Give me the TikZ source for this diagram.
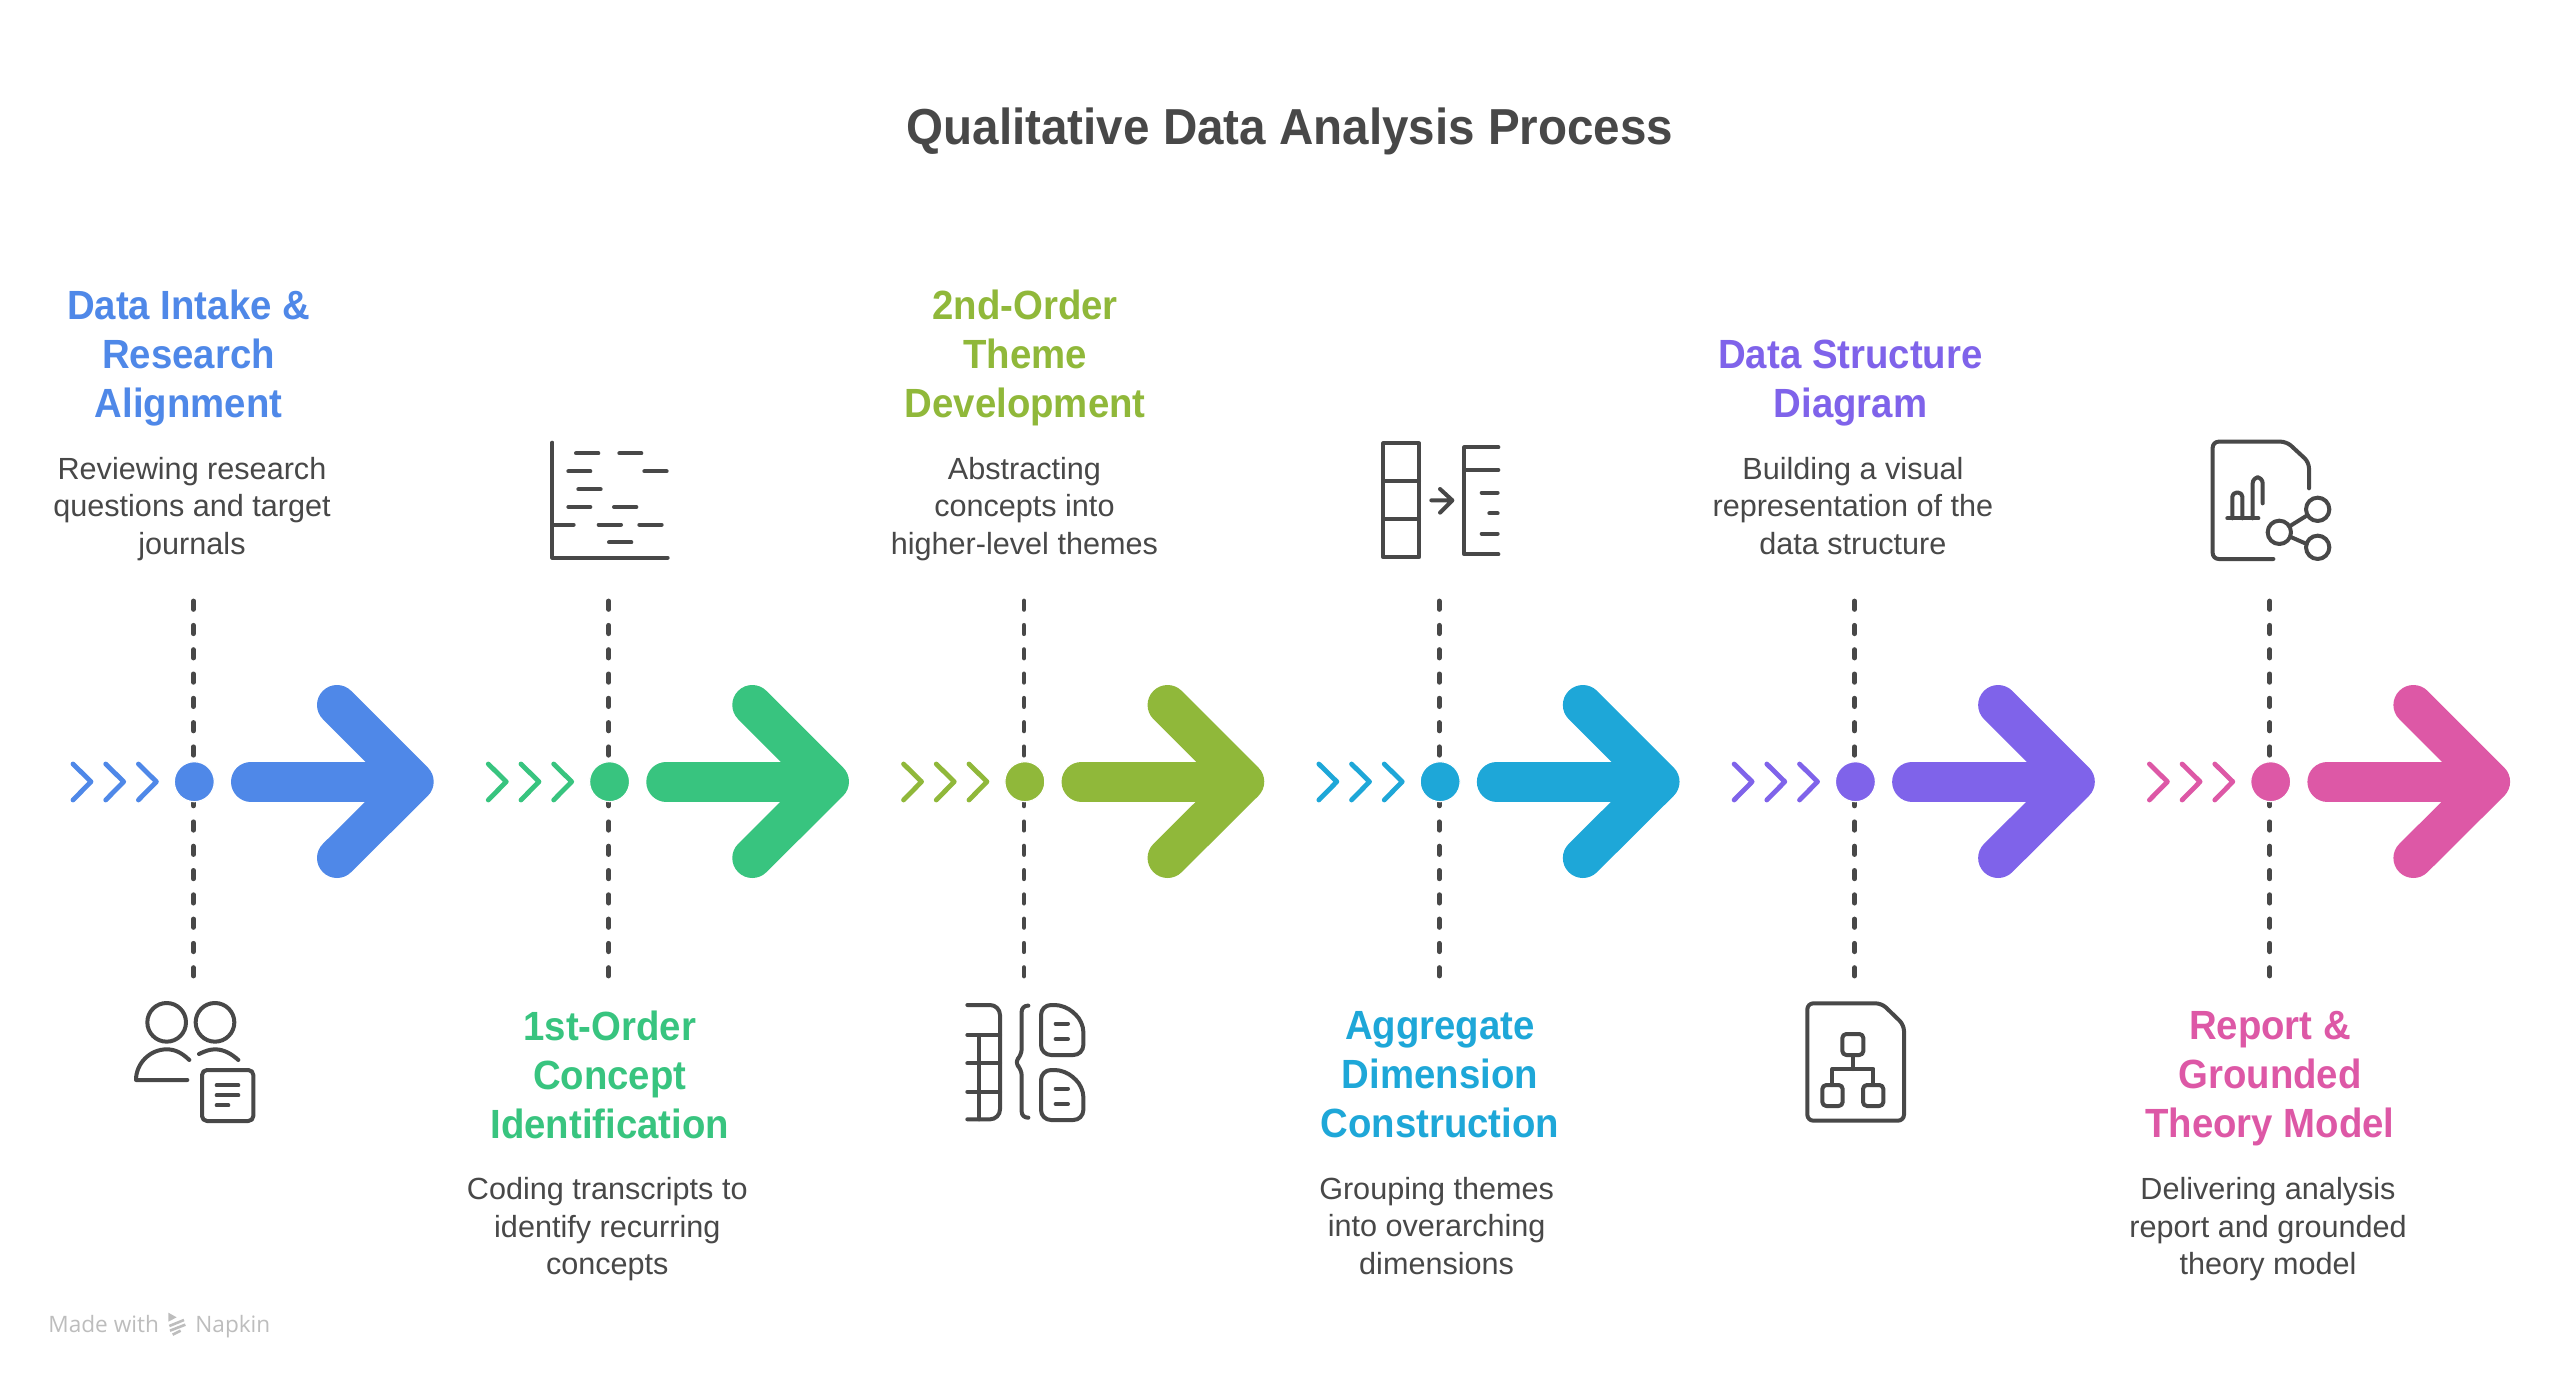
\documentclass[tikz,border=0pt]{standalone}
\usepackage{fontspec}
\setmainfont{Liberation Sans}[BoldFeatures={FakeStretch=0.94}]
\newfontfamily\footfont{Open Sans}
\definecolor{ink}{HTML}{484848}
\definecolor{foot}{HTML}{BDBDBD}
\definecolor{cA}{HTML}{4F88E8}
\definecolor{cB}{HTML}{38C47F}
\definecolor{cC}{HTML}{90B83A}
\definecolor{cD}{HTML}{1EA7D8}
\definecolor{cE}{HTML}{7F63EA}
\definecolor{cF}{HTML}{DD58A6}
\tikzset{
  headtext/.style={align=center,inner sep=0pt,font=\fontsize{20.4}{24.5}\selectfont\bfseries},
  bodytext/.style={align=center,inner sep=0pt,text=ink,font=\fontsize{15.3}{18.6}\selectfont},
  icon/.style={draw=ink,line width=2pt,line cap=round,line join=round},
  iconbox/.style={shift={(#1)},scale=1/3},
  dashline/.style={draw=ink,line width=2.4pt,line cap=round,dash pattern=on 4.2pt off 7.95pt},
  hub/.style={circle,minimum size=20pt,inner sep=0pt,fill=#1,draw=white,line width=.6pt},
  bigarrow/.style={draw=#1,line width=20pt,line cap=round,line join=round},
  chev/.style={draw=#1,line width=2.4pt,line cap=round,line join=round},
}
\begin{document}
\begin{tikzpicture}[x=.5pt,y=-.5pt]
\useasboundingbox (0,0) rectangle (2560,1380);
\fill[white] (0,0) rectangle (2560,1380);
\node[anchor=base,inner sep=0pt,text=ink,font=\fontsize{25.3}{30}\selectfont\bfseries] (title) at (1290,145) {Qualitative Data Analysis Process};

\foreach \i/\c in {0/cA,1/cB,2/cC,3/cD,4/cE,5/cF}{
\begin{scope}[shift={({415.28*\i},0)}]
  \coordinate (t\i) at (193.4,601);
  \coordinate (b\i) at (193.4,976);
  \node[hub=\c] (d\i) at (194.3,781.7) {};
  \draw[dashline] (t\i) -- (193.4,760);
  \draw[dashline] (b\i) -- (193.4,802);
  \node[hub=\c] at (d\i) {};
  \foreach \k in {0,32.7,65.4}
    \draw[chev=\c] (73+\k,764) -- (91+\k,781.7) -- (73+\k,800);
  \draw[bigarrow=\c] (251,781.7) -- (413,781.7);
  \draw[bigarrow=\c] (337,705) -- (413.7,781.7) -- (337,858);
\end{scope}
}

\node[headtext,text=cA] (h1) at (188.6,358.4) {Data Intake \&\\Research\\Alignment};
\node[bodytext] (p1) at (192,509) {Reviewing research\\questions and target\\journals};
\node[headtext,text=cB] (h2) at (609.7,1075) {1st-Order\\Concept\\Identification};
\node[bodytext] (p2) at (607.3,1229.2) {Coding transcripts to\\identify recurring\\concepts};
\node[headtext,text=cC] (h3) at (1025.2,358.4) {2nd-Order\\Theme\\Development};
\node[bodytext] (p3) at (1024.4,509) {Abstracting\\concepts into\\higher-level themes};
\node[headtext,text=cD] (h4) at (1439.9,1075) {Aggregate\\Dimension\\Construction};
\node[bodytext] (p4) at (1436.6,1226) {Grouping themes\\into overarching\\dimensions};
\node[headtext,text=cE] (h5) at (1850.4,383) {Data Structure\\Diagram};
\node[bodytext] (p5) at (1852.9,506) {Building a visual\\representation of the\\data structure};
\node[headtext,text=cF] (h6) at (2270,1078.4) {Report \&\\Grounded\\Theory Model};
\node[bodytext] (p6) at (2268,1229.2) {Delivering analysis\\report and grounded\\theory model};

% icon 1
\begin{scope}[iconbox={100,960}]
  \draw[icon] (200,187) circle[radius=58];
  \draw[icon] (345,187) circle[radius=58];
  \draw[icon] (268,300) .. controls (245,278) and (225,268) .. (200,268) .. controls (150,268) and (108,310) .. (108,360) -- (262,360);
  \draw[icon] (297,282) .. controls (315,273) and (330,268) .. (345,268) .. controls (372,268) and (395,282) .. (415,300);
  \draw[icon,rounded corners=2.5pt] (306,330) rectangle (460,483);
  \draw[icon] (350,376) -- (415,376) (350,406) -- (415,406) (350,436) -- (385,436);
\end{scope}
% icon 2
\begin{scope}[iconbox={520,410}]
  \draw[icon] (97,98) -- (97,443) -- (443,443);
  \draw[icon] (168,130) -- (235,130) (298,130) -- (364,130)
    (145,184) -- (211,184) (373,184) -- (440,184)
    (175,238) -- (242,238)
    (145,291) -- (211,291) (282,291) -- (349,291)
    (100,344) -- (161,344) (236,344) -- (303,344) (358,344) -- (425,344)
    (267,397) -- (334,397);
\end{scope}
% icon 3
\begin{scope}[iconbox={940,980}]
  \draw[icon,rounded corners=5pt] (82,75) -- (180,75) -- (180,418) -- (82,418);
  \draw[icon] (82,165) -- (180,165) (82,250) -- (180,250) (82,335) -- (180,335) (118,165) -- (118,418);
  \draw[icon,rounded corners=3pt] (265,77) -- (245,77) -- (245,225) -- (223,247) -- (245,268) -- (245,413) -- (265,413);
  \foreach \d in {0,195}{
    \draw[icon,rounded corners=5pt] (303,75+\d) -- (375,75+\d) -- (430,125+\d) -- (430,225+\d) -- (303,225+\d) -- cycle;
    \draw[icon] (347,131+\d) -- (384,131+\d) (347,177+\d) -- (384,177+\d);
  }
\end{scope}
% icon 4
\begin{scope}[iconbox={1360,420}]
  \draw[icon] (70,70) rectangle (177,412);
  \draw[icon] (70,184) -- (177,184) (70,298) -- (177,298);
  \draw[icon] (214,241) -- (277,241) (240,207) -- (277,241) -- (240,278);
  \draw[icon] (415,82) -- (313,82) -- (313,403) -- (415,403);
  \draw[icon] (313,150) -- (415,150) (365,218) -- (413,218) (388,280) -- (413,280) (365,341) -- (413,341);
\end{scope}
% icon 5
\begin{scope}[iconbox={1780,980}]
  \draw[icon,rounded corners=3pt] (82,70) -- (305,70) -- (372,135) -- (372,422) -- (82,422) -- cycle;
  \draw[icon,rounded corners=2pt] (187,162) rectangle (250,225);
  \draw[icon] (218,225) -- (218,267) (157,315) -- (157,267) -- (280,267) -- (280,315);
  \draw[icon,rounded corners=2pt] (127,315) rectangle (188,378);
  \draw[icon,rounded corners=2pt] (249,315) rectangle (310,378);
\end{scope}
% icon 6
\begin{scope}[iconbox={2190,420}]
  \draw[icon,rounded corners=3pt] (250,417) -- (68,417) -- (68,65) -- (290,65) -- (357,127) -- (357,205);
  \draw[icon] (112,295) -- (205,295);
  \draw[icon,rounded corners=2pt] (127,295) -- (127,218) -- (157,218) -- (157,295);
  \draw[icon,rounded corners=3pt] (188,295) -- (188,172) -- (218,172) -- (218,250);
  \draw[icon] (383,268) circle[radius=35] (268,337) circle[radius=35] (383,382) circle[radius=35];
  \draw[icon] (300,318) -- (350,287) (300,350) -- (350,372);
\end{scope}
% footer
\node[anchor=base west,inner sep=0pt,text=foot,font=\footfont\fontsize{11.3}{14}\selectfont] (made) at (48,1332) {Made with};
\node[anchor=base west,inner sep=0pt,text=foot,font=\footfont\fontsize{11.3}{14}\selectfont] (nap) at (195,1332) {Napkin};
\begin{scope}[iconbox={30,1300}]
  \fill[foot] (415,38) -- (440,52) -- (415,65) -- cycle;
  \draw[foot,line width=1.3pt] (418,78) -- (462,60) (420,92) -- (466,74) (428,104) -- (452,92);
\end{scope}
\end{tikzpicture}
\end{document}
